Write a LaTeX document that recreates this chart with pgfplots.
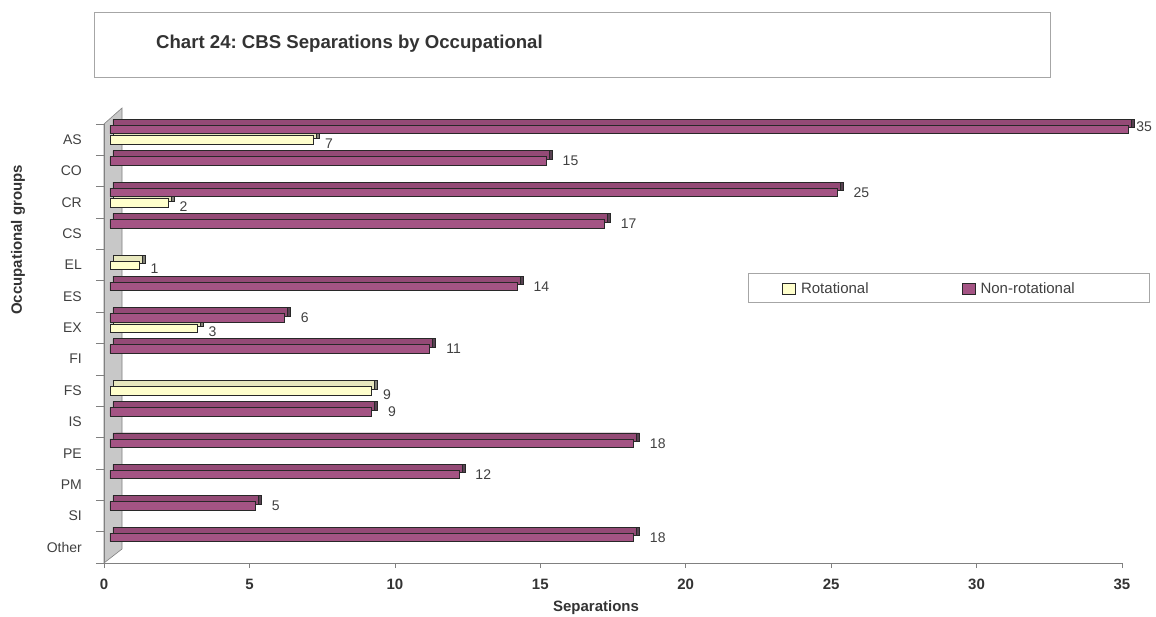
\documentclass[border=0pt]{standalone}
\usepackage{pgfplots}
\pgfplotsset{compat=1.18}
\usepackage{fontspec}
\setmainfont{Liberation Sans}
\frenchspacing
\definecolor{purpfront}{RGB}{164,84,132}
\definecolor{purptop}{RGB}{148,74,118}
\definecolor{purpcap}{RGB}{88,66,82}
\definecolor{rotfront}{RGB}{255,255,204}
\definecolor{rottop}{RGB}{232,232,190}
\definecolor{rotcap}{RGB}{130,130,120}
\definecolor{outl}{RGB}{40,40,40}
\definecolor{wallgray}{RGB}{200,200,200}
\definecolor{txt}{RGB}{64,64,64}
\begin{document}
\begin{tikzpicture}[x=1pt,y=1pt]
\path[use as bounding box] (0,0) rectangle (1156,616);
% title box
\draw[gray!70, line width=0.8pt] (94,539) rectangle (1050,604);
\node[anchor=base west, font=\fontsize{18.6}{22}\selectfont\bfseries, text=black!80, inner sep=0pt] at (156,567) {Chart 24: CBS Separations by Occupational};
% side wall
\fill[wallgray, draw=gray, line width=0.6pt] (104,53) -- (104,492) -- (122,508) -- (122,67) -- cycle;
% legend box
\draw[gray!70, line width=0.8pt] (748,314) rectangle (1149,343);
\begin{axis}[
  at={(104pt,53pt)}, anchor=south west,
  scale only axis, width=1018pt, height=439pt,
  xmin=0, xmax=35, ymin=-0.5, ymax=13.5,
  /pgf/number format/assume math mode=true,
  axis lines*=left,
  axis line style={gray, line width=0.8pt},
  xtick={0,5,...,35},
  xtick align=outside,
  x tick style={gray, line width=0.6pt},
  major tick length=5pt,
  xticklabel style={font=\fontsize{15}{18}\selectfont\bfseries, text=black!80, inner sep=0pt, yshift=-11pt},
  ytick={0,...,13},
  yticklabels={Other,SI,PM,PE,IS,FS,FI,EX,ES,EL,CS,CR,CO,AS},
  y tick style={draw=none},
  yticklabel style={font=\fontsize{14}{17}\selectfont, text=txt, inner sep=0pt, xshift=-22pt},
  extra y ticks={-0.5,0.5,...,13.5},
  extra y tick labels={},
  extra y tick style={y tick style={draw=gray, line width=0.6pt}, major tick length=8pt, ytick align=outside},
  xlabel={Separations},
  ylabel={Occupational groups},
  every axis x label/.style={at={(axis description cs:0.4833,0)}, anchor=base, yshift=-48pt, font=\fontsize{15}{18}\selectfont\bfseries, text=black!80},
  every axis y label/.style={at={(axis description cs:-0.0845,0.736)}, rotate=90, anchor=center, font=\fontsize{15}{18}\selectfont\bfseries, text=black!80},
  clip=false,
  legend columns=2,
  legend style={at={(0.666,0.6253)}, anchor=west, draw=none, fill=none, inner sep=0pt,
    font=\fontsize{15}{18}\selectfont, text=txt,
    nodes={inner xsep=5pt},
    /tikz/every even column/.append style={column sep=88pt}},
  point meta=x,
  nodes near coords,
  every node near coord/.append style={anchor=west, font=\fontsize{14}{17}\selectfont, text=txt, inner sep=2pt},
]
% Rotational
\addplot[xbar, bar width=8.5pt, bar shift=-0.5pt, fill=rotcap, draw=outl, line width=0.9pt, xshift=12pt, yshift=6pt, forget plot, nodes near coords={}] coordinates {(7,13) (2,11) (1,9) (3,7) (9,5)};
\addplot[xbar, bar width=8.5pt, bar shift=-0.5pt, fill=rottop, draw=outl, line width=0.9pt, xshift=9pt, yshift=6pt, forget plot, nodes near coords={}] coordinates {(7,13) (2,11) (1,9) (3,7) (9,5)};
\addplot[xbar, bar width=8.5pt, bar shift=-0.5pt, fill=rotfront, draw=outl, line width=0.9pt, xshift=6pt,
  every node near coord/.append style={xshift=9pt, yshift=-4pt},
  legend image code/.code={\draw[fill=rotfront, draw=outl, line width=0.9pt] (0pt,-5.5pt) rectangle (13pt,5.5pt);}]
  coordinates {(7,13) (2,11) (1,9) (3,7) (9,5)};
\addlegendentry{Rotational}
% Non-rotational
\addplot[xbar, bar width=8.5pt, bar shift=10pt, fill=purpcap, draw=outl, line width=0.9pt, xshift=12pt, yshift=6pt, forget plot, nodes near coords={}] coordinates {(35,13) (15,12) (25,11) (17,10) (14,8) (6,7) (11,6) (9,4) (18,3) (12,2) (5,1) (18,0)};
\addplot[xbar, bar width=8.5pt, bar shift=10pt, fill=purptop, draw=outl, line width=0.9pt, xshift=9pt, yshift=6pt, forget plot, nodes near coords={}] coordinates {(35,13) (15,12) (25,11) (17,10) (14,8) (6,7) (11,6) (9,4) (18,3) (12,2) (5,1) (18,0)};
\addplot[xbar, bar width=8.5pt, bar shift=10pt, fill=purpfront, draw=outl, line width=0.9pt, xshift=6pt,
  every node near coord/.append style={xshift=14pt, yshift=10pt},
  coordinate style/.condition={x > 34}{xshift=-8pt, yshift=3pt},
  legend image code/.code={\draw[fill=purpfront, draw=outl, line width=0.9pt] (0pt,-5.5pt) rectangle (13pt,5.5pt);}]
  coordinates {(35,13) (15,12) (25,11) (17,10) (14,8) (6,7) (11,6) (9,4) (18,3) (12,2) (5,1) (18,0)};
\addlegendentry{Non-rotational}
\end{axis}
\end{tikzpicture}
\end{document}
